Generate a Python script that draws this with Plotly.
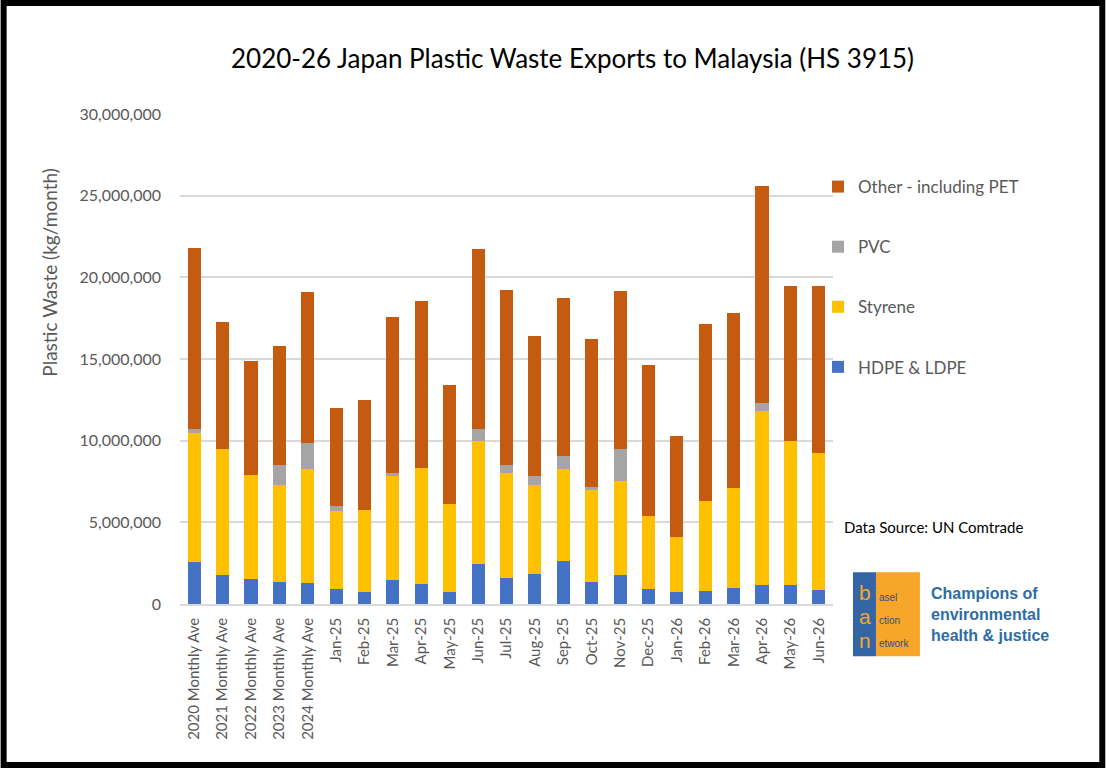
import plotly.graph_objects as go

categories = ["2020 Monthly Ave", "2021 Monthly Ave", "2022 Monthly Ave", "2023 Monthly Ave",
              "2024 Monthly Ave", "Jan-25", "Feb-25", "Mar-25", "Apr-25", "May-25", "Jun-25",
              "Jul-25", "Aug-25", "Sep-25", "Oct-25", "Nov-25", "Dec-25", "Jan-26", "Feb-26",
              "Mar-26", "Apr-26", "May-26", "Jun-26"]
hdpe = [2.55, 1.76, 1.51, 1.33, 1.27, 0.90, 0.72, 1.45, 1.21, 0.72, 2.43,
        1.57, 1.82, 2.61, 1.33, 1.76, 0.90, 0.72, 0.78, 0.96, 1.14, 1.14, 0.84]
styrene = [7.90, 7.71, 6.37, 5.93, 6.97, 4.77, 5.01, 6.43, 7.10, 5.38, 7.53,
           6.43, 5.44, 5.63, 5.63, 5.75, 4.47, 3.36, 5.51, 6.12, 10.65, 8.82, 8.38]
pvc = [0.24, 0.0, 0.0, 1.23, 1.59, 0.31, 0.0, 0.12, 0.0, 0.0, 0.73,
       0.49, 0.56, 0.80, 0.18, 1.96, 0.0, 0.0, 0.0, 0.0, 0.49, 0.0, 0.0]
other = [11.08, 7.77, 6.97, 7.28, 9.25, 6.00, 6.74, 9.55, 10.22, 7.28, 11.02,
         10.71, 8.56, 9.67, 9.06, 9.67, 9.24, 6.18, 10.83, 10.71, 13.34, 9.48, 10.22]
series_names = ["HDPE & LDPE", "Styrene", "PVC", "Other - including PET"]
series_colors = ["#4472C4", "#FFC000", "#A5A5A5", "#C55A11"]
y_ticks = [0, 5e6, 10e6, 15e6, 20e6, 25e6, 30e6]

W, H = 1106, 768
L, R, T, B = 179.5, 833.0, 114.0, 603.7


def px(x):
    return (x - L) / (R - L)


def py(y):
    return (B - y) / (B - T)


FONT = "Lato"
GREY = "#595959"

fig = go.Figure()
for i, (name, vals, col) in enumerate(zip(series_names, [hdpe, styrene, pvc, other], series_colors)):
    fig.add_trace(go.Bar(
        x=categories, y=[v * 1e6 for v in vals], name=name,
        marker=dict(color=col, line=dict(width=0)),
        legendgroup=name, legendrank=100 - i,
    ))

fig.update_layout(
    width=W, height=H,
    barmode="stack", bargap=0.54,
    plot_bgcolor="white", paper_bgcolor="white",
    margin=dict(l=L, r=W - R, t=T, b=H - B, pad=0),
    font=dict(family=FONT, color=GREY),
    showlegend=True,
    legend=dict(
        x=px(818), y=py(169), xanchor="left", yanchor="top",
        traceorder="grouped", tracegroupgap=35,
        font=dict(size=17, color=GREY, family=FONT),
        bgcolor="rgba(0,0,0,0)",
    ),
    xaxis=dict(
        tickangle=-90, tickfont=dict(size=15, color=GREY),
        showgrid=False, showline=True, linecolor="#D9D9D9", linewidth=1.5,
        ticks="", ticklabelstandoff=6,
    ),
    yaxis=dict(
        range=[0, 30e6], tickvals=y_ticks, tickformat=",.0f",
        tickfont=dict(size=16, color=GREY),
        showgrid=True, gridcolor="#D9D9D9", gridwidth=1.5,
        zeroline=False, showline=False, ticks="", ticklabelstandoff=18,
    ),
)

annotations = [
    dict(text="2020-26 Japan Plastic Waste Exports to Malaysia (HS 3915)",
         x=px(572), y=py(58), xanchor="center", yanchor="middle",
         font=dict(size=26, color="#000000", family=FONT)),
    dict(text="Plastic Waste (kg/month)", x=px(48), y=py(272), textangle=-90,
         xanchor="center", yanchor="middle", font=dict(size=19, color=GREY, family=FONT)),
    dict(text="Data Source: UN Comtrade", x=px(842), y=py(527), xanchor="left", yanchor="middle",
         font=dict(size=15, color="#000000", family=FONT)),
    # logo
    dict(text="b", x=px(865), y=py(592), xanchor="center", yanchor="middle",
         font=dict(size=21, color="#F8A62A", family="Liberation Sans")),
    dict(text="a", x=px(865), y=py(616), xanchor="center", yanchor="middle",
         font=dict(size=21, color="#F8A62A", family="Liberation Sans")),
    dict(text="n", x=px(865), y=py(640), xanchor="center", yanchor="middle",
         font=dict(size=21, color="#F8A62A", family="Liberation Sans")),
    dict(text="asel", x=px(877), y=py(597), xanchor="left", yanchor="middle",
         font=dict(size=10, color="#2A4F8A", family="Liberation Sans")),
    dict(text="ction", x=px(877), y=py(620), xanchor="left", yanchor="middle",
         font=dict(size=10, color="#2A4F8A", family="Liberation Sans")),
    dict(text="etwork", x=px(877), y=py(643), xanchor="left", yanchor="middle",
         font=dict(size=10, color="#2A4F8A", family="Liberation Sans")),
    dict(text="<b>Champions of<br>environmental<br>health &amp; justice</b>",
         x=px(929), y=py(614), xanchor="left", yanchor="middle", align="left",
         font=dict(size=16, color="#2E6DA4", family="Liberation Sans")),
]
for a in annotations:
    a.update(xref="paper", yref="paper", showarrow=False)
fig.update_layout(annotations=annotations)

shapes = [
    dict(type="rect", x0=px(876), x1=px(920), y0=py(572), y1=py(656),
         fillcolor="#F8A62A", line=dict(width=0), layer="below"),
    dict(type="rect", x0=px(853), x1=px(876), y0=py(572), y1=py(656),
         fillcolor="#3465A4", line=dict(width=0), layer="below"),
    dict(type="rect", x0=px(3), x1=px(1102.5), y0=py(3), y1=py(764.5),
         line=dict(color="#000000", width=6), fillcolor="rgba(0,0,0,0)"),
]
for s in shapes:
    s.update(xref="paper", yref="paper")
fig.update_layout(shapes=shapes)

fig.write_html("out.html")
